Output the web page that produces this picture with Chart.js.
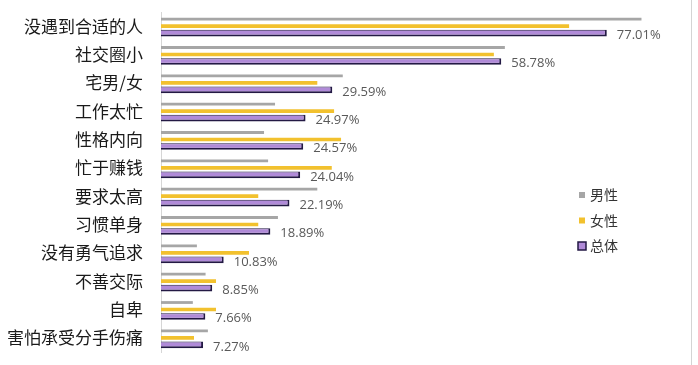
<!DOCTYPE html>
<html>
<head>
<meta charset="utf-8">
<script src="https://cdn.jsdelivr.net/npm/chart.js@4/dist/chart.umd.min.js"></script>
<style>
  html, body { margin: 0; padding: 0; background: #fff; }
  #wrap { position: relative; width: 698px; height: 365px; overflow: hidden; }
  #frame { position: absolute; left: 691px; top: 0; width: 1px; height: 365px; background: #d4d4d4; }
</style>
</head>
<body>
<div id="wrap">
  <canvas id="c" width="698" height="365"></canvas>
  <div id="frame"></div>
</div>
<script>
const categories = ['没遇到合适的人', '社交圈小', '宅男/女', '工作太忙', '性格内向', '忙于赚钱', '要求太高', '习惯单身', '没有勇气追求', '不善交际', '自卑', '害怕承受分手伤痛'];
const seriesNames = ['男性', '女性', '总体'];
const maleValues = [83.0, 59.4, 31.4, 19.7, 17.8, 18.5, 27.0, 20.2, 6.2, 7.7, 5.5, 8.1];
const femaleValues = [70.5, 57.5, 27.0, 29.9, 31.1, 29.5, 16.8, 16.8, 15.2, 9.5, 9.5, 5.7];
const totalValues = [77.01, 58.78, 29.59, 24.97, 24.57, 24.04, 22.19, 18.89, 10.83, 8.85, 7.66, 7.27];

const colors = { male: '#a6a6a6', female: '#f2c12e', total: '#b08ad8', totalBorder: '#231944' };

const valueLabelPlugin = {
  id: 'valueLabels',
  afterDatasetsDraw(chart) {
    const ctx = chart.ctx;
    const meta = chart.getDatasetMeta(2);
    ctx.save();
    ctx.font = '13px "Open Sans", "Liberation Sans", sans-serif';
    ctx.fillStyle = '#595959';
    ctx.textAlign = 'left';
    ctx.textBaseline = 'middle';
    meta.data.forEach((el, i) => {
      ctx.fillText(totalValues[i].toFixed(2) + '%', el.x + 10, el.y + 2);
    });
    ctx.restore();
  }
};

const legendPlugin = {
  id: 'customLegend',
  afterDraw(chart) {
    const ctx = chart.ctx;
    const items = [
      { name: seriesNames[0], fill: colors.male, border: null, size: 6 },
      { name: seriesNames[1], fill: colors.female, border: null, size: 6 },
      { name: seriesNames[2], fill: colors.total, border: colors.totalBorder, size: 8 }
    ];
    const cx = 582, y0 = 195, gap = 25.5;
    ctx.save();
    ctx.font = '14px "Noto Sans CJK SC", sans-serif';
    ctx.textBaseline = 'middle';
    ctx.textAlign = 'left';
    items.forEach((it, i) => {
      const y = y0 + i * gap;
      ctx.fillStyle = it.fill;
      ctx.fillRect(cx - it.size / 2, y - it.size / 2, it.size, it.size);
      if (it.border) {
        ctx.strokeStyle = it.border;
        ctx.lineWidth = 1.5;
        ctx.strokeRect(cx - it.size / 2, y - it.size / 2, it.size, it.size);
      }
      ctx.fillStyle = '#333';
      ctx.fillText(it.name, 590, y);
    });
    ctx.restore();
  }
};

new Chart(document.getElementById('c'), {
  type: 'bar',
  data: {
    labels: categories,
    datasets: [
      { label: seriesNames[0], data: maleValues, backgroundColor: colors.male, borderWidth: 0, barPercentage: 0.4, categoryPercentage: 0.74 },
      { label: seriesNames[1], data: femaleValues, backgroundColor: colors.female, borderWidth: 0, barPercentage: 0.52, categoryPercentage: 0.74 },
      { label: seriesNames[2], data: totalValues, backgroundColor: colors.total, borderColor: colors.totalBorder,
        borderWidth: { top: 1, right: 2, bottom: 2, left: 0 }, borderSkipped: false, barPercentage: 0.95, categoryPercentage: 0.74 }
    ]
  },
  options: {
    indexAxis: 'y',
    responsive: false,
    animation: false,
    layout: { padding: { left: 0, right: 16, top: 12, bottom: 13 } },
    plugins: { legend: { display: false }, tooltip: { enabled: false } },
    scales: {
      x: { display: false, min: 0, max: 90 },
      y: {
        afterFit(scale) { scale.width = 161; scale.paddingTop = 0; scale.paddingBottom = 0; },
        grid: { display: true, drawOnChartArea: false, drawTicks: false },
        border: { display: true, color: '#d6d6d6', width: 1 },
        ticks: { padding: 18, color: '#1a1a1a', font: { family: '"Noto Sans CJK SC", sans-serif', size: 17 } }
      }
    }
  },
  plugins: [valueLabelPlugin, legendPlugin]
});
</script>
</body>
</html>
